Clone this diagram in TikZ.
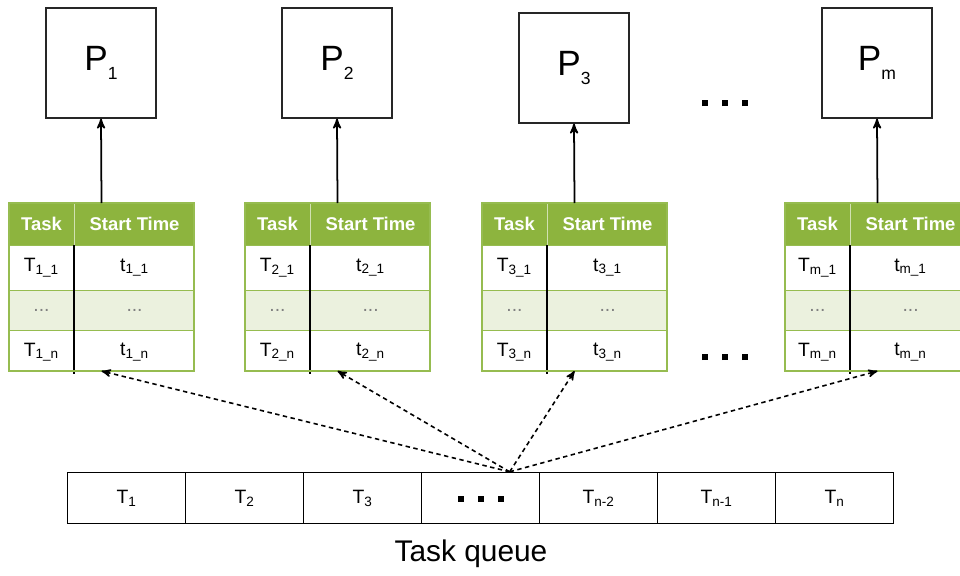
\documentclass[tikz,border=0pt]{standalone}
\usepackage{fontspec}
\setmainfont{Liberation Sans}
\usetikzlibrary{arrows,positioning}

\definecolor{hdgreen}{RGB}{141,180,62}
\definecolor{rowgreen}{RGB}{235,241,222}
\definecolor{gridgreen}{RGB}{150,188,80}

\newcommand{\psub}[1]{\raisebox{-0.25em}{\fontsize{10}{12}\selectfont #1}}
\newcommand{\sqdots}{\rule{0.12cm}{0.12cm}\hspace{0.28cm}\rule{0.12cm}{0.12cm}\hspace{0.28cm}\rule{0.12cm}{0.12cm}}

\tikzset{
  proc/.style={draw=black!85, thick, minimum size=2.2cm, inner sep=0pt,
    font=\fontsize{20}{24}\selectfont},
  hdcell/.style={fill=hdgreen, text=white, inner sep=0pt,
    minimum height=0.82cm, font=\bfseries\fontsize{10.5}{13}\selectfont},
  cell/.style={inner sep=0pt, font=\fontsize{11}{13}\selectfont},
  qcell/.style={draw, thick, minimum width=2.36cm, minimum height=1.02cm,
    inner sep=0pt, font=\fontsize{11}{13}\selectfont},
  dots/.style={inner sep=0pt}
}

\begin{document}
\begin{tikzpicture}[x=0.02cm,y=-0.02cm,>=stealth',semithick]
  \useasboundingbox (0,0) rectangle (960,575);

  % processors and their task tables
  \foreach \k/\xl/\py in {1/9/63, 2/245/63, 3/482/68, m/785/63} {
    \node[proc] (P\k) at (\xl+92,\py) {P\psub{\k}};
    \node[anchor=north west, minimum width=3.68cm, minimum height=3.34cm,
      inner sep=0pt] (tab\k) at (\xl,203) {};
    \node[hdcell, minimum width=1.28cm, anchor=north west] (th\k) at (\xl,203) {Task};
    \node[hdcell, minimum width=2.4cm, right=0pt of th\k] (sh\k) {Start Time};
    \node[cell, minimum width=1.28cm, minimum height=0.88cm, below=0pt of th\k] (a\k) {T\textsubscript{\k\_1}};
    \node[cell, minimum width=2.4cm, minimum height=0.88cm, below=0pt of sh\k] (sa\k) {t\textsubscript{\k\_1}};
    \node[cell, fill=rowgreen, minimum width=1.28cm, minimum height=0.78cm, below=0pt of a\k] (b\k) {\textcolor{black!50}{...}};
    \node[cell, fill=rowgreen, minimum width=2.4cm, minimum height=0.78cm, below=0pt of sa\k] (sb\k) {\textcolor{black!50}{...}};
    \node[cell, minimum width=1.28cm, minimum height=0.86cm, below=0pt of b\k] (c\k) {T\textsubscript{\k\_n}};
    \node[cell, minimum width=2.4cm, minimum height=0.86cm, below=0pt of sb\k] (sc\k) {t\textsubscript{\k\_n}};
    % grid
    \draw[gridgreen] (a\k.north west) -- (sa\k.north east);
    \draw[gridgreen] (b\k.north west) -- (sb\k.north east);
    \draw[gridgreen] (c\k.north west) -- (sc\k.north east);
    \draw[white!60!hdgreen] (th\k.north east) -- (th\k.south east);
    \draw[black, thick] (a\k.north east) -- (c\k.south east);
    \draw[gridgreen, thick] (tab\k.north west) rectangle (tab\k.south east);
    \draw[->, line width=1pt] (tab\k.north) -- (P\k.south);
  }

  \node[dots] (dtop) at (725,103) {\sqdots};
  \node[dots] (dmid) at (725,357) {\sqdots};

  % task queue
  \foreach \i/\lbl in {1/T\textsubscript{1}, 2/T\textsubscript{2}, 3/T\textsubscript{3},
      4/\raisebox{-0.15cm}{\sqdots}, 5/T\textsubscript{n-2}, 6/T\textsubscript{n-1}, 7/T\textsubscript{n}}
    \node[qcell, anchor=west] (q\i) at ({67+118*(\i-1)},498) {\lbl};
  \node[font=\fontsize{17}{20}\selectfont] (qlabel) at (471,554) {Task queue};

  \coordinate (fan) at ([xshift=0.58cm]q4.north);
  \foreach \k in {1,2,3,m}
    \draw[->, line width=0.9pt, dash pattern=on 2.5pt off 2pt] (fan) -- (tab\k.south);
\end{tikzpicture}
\end{document}
